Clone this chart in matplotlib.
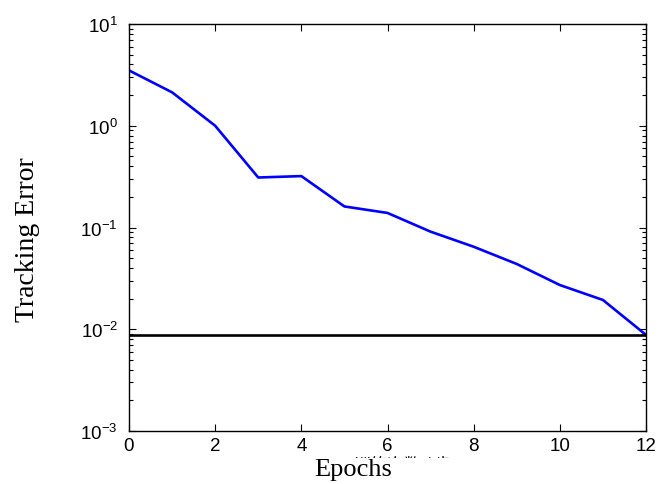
import math
import matplotlib
matplotlib.use('Agg')
import matplotlib.pyplot as plt
from matplotlib.patches import Rectangle
from matplotlib.ticker import FixedLocator, LogLocator, FuncFormatter, NullFormatter

# dados
epocas = [0, 1, 2, 3, 4, 5, 6, 7, 8, 9, 10, 11, 12]
erro = [3.5, 2.13, 1.0, 0.31, 0.32, 0.161, 0.139, 0.091, 0.0647, 0.0438, 0.0272, 0.0194, 0.0088]
erro_alvo = 0.0088
xticks = [0, 2, 4, 6, 8, 10, 12]
rotulo_y = 'Tracking Error'
rotulo_x = 'Epochs'
rotulo_cn = '训练次数 / 步'

plt.rcParams['font.family'] = ['Liberation Sans', 'DejaVu Sans']
plt.rcParams['mathtext.default'] = 'regular'

fig = plt.figure(figsize=(6.65, 4.85), dpi=100)
ax = fig.add_axes([129 / 665, 53 / 485, 517 / 665, 407 / 485])

ax.plot(epocas, erro, color='#0000ff', linewidth=1.9)
ax.axhline(erro_alvo, color='black', linewidth=1.9)

ax.set_yscale('log')
ax.set_xlim(0, 12)
ax.set_ylim(1e-3, 1e1)
ax.xaxis.set_major_locator(FixedLocator(xticks))
ax.yaxis.set_major_locator(LogLocator(base=10, numticks=10))
ax.yaxis.set_minor_locator(LogLocator(base=10, subs=range(2, 10), numticks=10))
ax.yaxis.set_minor_formatter(NullFormatter())
ax.yaxis.set_major_formatter(FuncFormatter(lambda v, p: '$10^{%d}$' % round(math.log10(v))))

ax.tick_params(which='both', direction='in', top=True, right=True, labelsize=13.5)
ax.tick_params(which='major', length=5, width=0.8)
ax.tick_params(which='minor', length=3, width=0.8)
ax.tick_params(axis='x', pad=4)
ax.tick_params(axis='y', pad=8)
for s in ax.spines.values():
    s.set_linewidth(1.0)

fig.text(28 / 665, 1 - 240 / 485, rotulo_y, rotation=90, ha='center', va='center',
         family='Liberation Serif', fontsize=20)
fig.text(403 / 665, 1 - 465 / 485, rotulo_cn, ha='center', va='center',
         family=['Noto Sans CJK SC', 'DejaVu Sans'], fontsize=12)
fig.patches.append(Rectangle((290 / 665, 0), 190 / 665, 1 - 459 / 485,
                             transform=fig.transFigure, facecolor='white',
                             edgecolor='none', zorder=5))
fig.text(353 / 665, 1 - 470 / 485, rotulo_x, ha='center', va='center',
         family='Liberation Serif', fontsize=19, zorder=6)

fig.savefig('out.png', dpi=100)
